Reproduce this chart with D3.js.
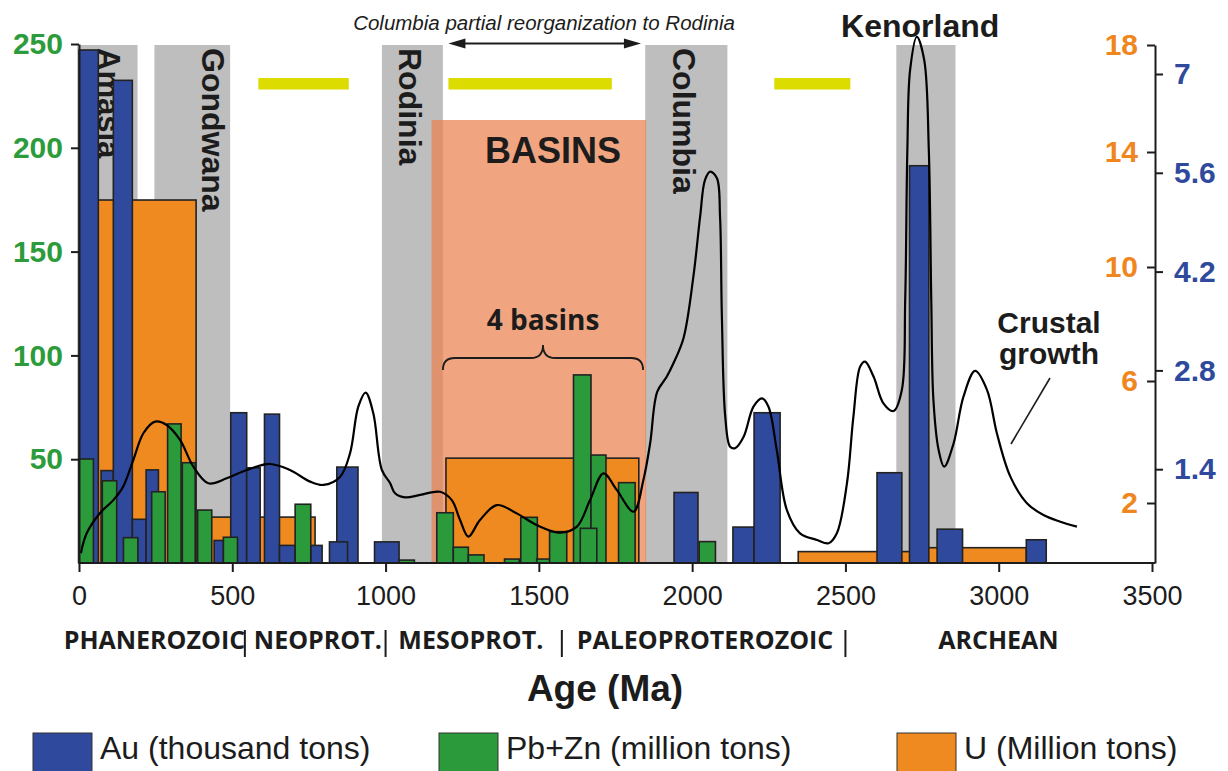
<!DOCTYPE html>
<html>
<head>
<meta charset="utf-8">
<title>Ore endowment, sedimentary basins and crustal growth through time</title>
<script src="https://cdn.jsdelivr.net/npm/d3@7/dist/d3.min.js"></script>
<style>
  html, body { margin: 0; padding: 0; background: #fff; }
  svg { display: block; }
  text { font-family: "Liberation Sans", Arial, Helvetica, sans-serif; }
  .sans2 { font-family: "Open Sans", "Liberation Sans", Arial, sans-serif; }
</style>
</head>
<body>
<svg id="chart" width="1228" height="771"></svg>
<script>
// ---------------- data ----------------
const ageTicks  = [0, 500, 1000, 1500, 2000, 2500, 3000, 3500];
const pbznTicks = [50, 100, 150, 200, 250];
const uTicks    = [2, 6, 10, 14, 18];
const auTicks   = [1.4, 2.8, 4.2, 5.6, 7];

// Au (thousand tons) per age bin (Ma)
const auStart = [0, 72, 112, 174, 219, 441, 495, 547, 605, 654, 756, 841, 817, 964, 1941, 2133, 2202, 2603, 2709, 2799, 3090];
const auEnd   = [63, 112, 174, 219, 259, 471, 547, 591, 654, 705, 793, 910, 876, 1044, 2019, 2202, 2287, 2684, 2772, 2882, 3155];
const auValue = [7.34, 1.38, 6.91, 0.69, 1.39, 0.39, 2.20, 1.42, 2.18, 0.32, 0.32, 1.43, 0.37, 0.37, 1.07, 0.58, 2.20, 1.35, 5.70, 0.55, 0.40];

// Pb+Zn (million tons) per age bin (Ma)
const pbznStart = [0, 76, 145, 237, 289, 337, 387, 471, 705, 1044, 1167, 1221, 1270, 1388, 1441, 1493, 1535, 1613, 1670, 1635, 1760, 2023];
const pbznEnd   = [47, 123, 192, 281, 333, 379, 433, 517, 756, 1094, 1221, 1270, 1321, 1436, 1495, 1539, 1591, 1670, 1719, 1689, 1814, 2076];
const pbznValue = [50.1, 39.6, 12.2, 34.3, 67.0, 48.3, 25.5, 12.4, 28.3, 1.4, 24.2, 7.6, 3.9, 1.9, 22.0, 1.9, 15.1, 90.6, 52.0, 16.7, 38.7, 10.3];

// U (million tons) per age bin (Ma)
const uStart = [59, 430, 1197, 2346, 2744];
const uEnd   = [382, 770, 1826, 2744, 3090];
const uValue = [12.33, 1.53, 3.47, 0.38, 0.51];

// supercontinents (Ma)
const superNames = ["Amasia", "Gondwana", "Rodinia", "Columbia", "Kenorland"];
const superStart = [-6, 246, 988, 1847, 2666];
const superEnd   = [191, 493, 1187, 2115, 2859];

// yellow intervals (Ma)
const yellowStart = [585, 1205, 2268];
const yellowEnd   = [880, 1738, 2516];

// sedimentary basins window and Columbia -> Rodinia reorganization (Ma)
const basinSpan = [1150, 1850];
const reorgSpan = [1205, 1833];
const braceSpan = [1187, 1840];

// geological eras
const eraNames    = ["PHANEROZOIC", "NEOPROT.", "MESOPROT.", "PALEOPROTEROZOIC", "ARCHEAN"];
const eraLabelAge = [246, 779, 1278, 2042, 2999];
const eraBounds   = [541, 1000, 1575, 2500];

// crustal growth curve (relative index, plotted against the left scale)
const crustAge = [6,25,68,112,144,177,210,248,286,330,373,422,482,547,623,688,754,797,852,884,911,935,960,988,1015,1031,1064,1113,1178,1216,1243,1270,1308,1363,1428,1493,1569,1624,1667,1711,1754,1809,1841,1863,1886,1917,1939,1972,2004,2026,2042,2059,2081,2091,2097,2108,2124,2140,2168,2200,2228,2249,2276,2309,2352,2407,2445,2472,2505,2526,2548,2564,2592,2624,2657,2684,2695,2702,2711,2733,2757,2772,2780,2787,2804,2822,2853,2885,2923,2962,2994,3038,3092,3146,3201,3255];
const crustIndex = [4.7,14.3,24.0,30.3,36.8,49.6,62.5,68.1,66.5,59.2,46.4,38.4,40.8,44.8,47.7,44.8,39.2,37.6,41.6,52.8,75.3,82.1,72.1,44.8,38.4,33.6,31.6,32.8,34.3,30.3,20.7,12.7,20.7,27.9,23.9,18.3,14.6,17.5,30.3,43.2,35.2,24.7,40.0,57.7,82.4,89.7,96.2,108.4,137.9,166.8,184.5,188.5,185.3,166.8,118.6,70.5,56.0,55.3,60.8,75.3,79.3,75.3,54.4,25.5,14.3,11.1,9.5,14.3,38.4,70.5,94.6,97.0,89.7,76.9,73.2,83.3,126.7,198.9,237.5,253.5,242.3,198.9,126.7,78.5,54.4,46.4,57.7,80.1,92.5,83.3,62.5,41.6,28.8,23.1,19.9,17.5];

const legendNames = ["Au (thousand tons)", "Pb+Zn (million tons)", "U (Million tons)"];

// ---------------- look ----------------
const C = {
  au: "#2f4a9d", pbzn: "#2a9a3a", u: "#ef8a21",
  auText: "#2f4a9d", pbznText: "#2c9b3b", uText: "#f0861e",
  band: "#bebebe", basin: "rgb(234,130,79)", yellow: "#dcdc00",
  ink: "#1c1c1c", edge: "#222"
};

const svg = d3.select("#chart");
const x = d3.scaleLinear().domain([0, 3500]).range([79, 1152]);
const yPbZn = d3.scaleLinear().domain([0, 250]).range([563, 44]);
const yU = d3.scaleLinear().domain([0, 2, 6, 10, 14, 18]).range([563, 503, 381, 267, 152, 45]);
const yAu = d3.scaleLinear().domain([0, 7]).range([568, 74]);
const base = yPbZn(0);
const bandTop = 45;
const rightX = x(3500) + 3;

// ---------- background bands ----------
const idx = n => d3.range(n);
svg.append("g").selectAll("rect").data(idx(superNames.length)).join("rect")
  .attr("x", i => x(superStart[i])).attr("width", i => x(superEnd[i]) - x(superStart[i]))
  .attr("y", bandTop).attr("height", base - bandTop).attr("fill", C.band);

svg.append("rect")
  .attr("x", x(basinSpan[0])).attr("width", x(basinSpan[1]) - x(basinSpan[0]))
  .attr("y", 120).attr("height", base - 120)
  .attr("fill", C.basin).attr("fill-opacity", 0.72);

// yellow intervals
svg.append("g").selectAll("rect").data(idx(yellowStart.length)).join("rect")
  .attr("x", i => x(yellowStart[i])).attr("width", i => x(yellowEnd[i]) - x(yellowStart[i]))
  .attr("y", 78).attr("height", 11.5).attr("fill", C.yellow);

// supercontinent names (vertical ones sit inside their band)
const vLabelX = [98, 202, 399, 673];
superNames.slice(0, 4).forEach((n, i) => {
  svg.append("text").attr("transform", `translate(${vLabelX[i]},48) rotate(90)`)
    .attr("font-size", i === 0 ? 31 : 32).attr("font-weight", "bold").attr("fill", C.ink)
    .text(n);
});
const kenorlandLabelAge = 2744;
svg.append("text").attr("x", x(kenorlandLabelAge)).attr("y", 37)
  .attr("text-anchor", "middle").attr("font-size", 32).attr("font-weight", "bold")
  .attr("fill", C.ink).text(superNames[4]);

// reorganization arrow and caption
const ay = 43.5, ax0 = x(reorgSpan[0]), ax1 = x(reorgSpan[1]);
svg.append("line").attr("x1", ax0 + 8).attr("x2", ax1 - 8).attr("y1", ay).attr("y2", ay)
  .attr("stroke", C.ink).attr("stroke-width", 1.8);
svg.append("path").attr("d", `M${ax0},${ay}L${ax0 + 17},${ay - 5}L${ax0 + 17},${ay + 5}Z`).attr("fill", C.ink);
svg.append("path").attr("d", `M${ax1},${ay}L${ax1 - 17},${ay - 5}L${ax1 - 17},${ay + 5}Z`).attr("fill", C.ink);
svg.append("text").attr("x", 544).attr("y", 29.5).attr("text-anchor", "middle")
  .attr("font-size", 20.5).attr("font-style", "italic").attr("fill", C.ink)
  .text("Columbia partial reorganization to Rodinia");

// ---------- bars ----------
function drawBars(starts, ends, values, yScale, fill) {
  svg.append("g").selectAll("rect").data(idx(starts.length)).join("rect")
    .attr("x", i => x(starts[i])).attr("width", i => x(ends[i]) - x(starts[i]))
    .attr("y", i => yScale(values[i])).attr("height", i => base - yScale(values[i]))
    .attr("fill", fill).attr("stroke", C.edge).attr("stroke-width", 1.6);
}
drawBars(uStart, uEnd, uValue, yU, C.u);
drawBars(auStart, auEnd, auValue, yAu, C.au);
drawBars(pbznStart, pbznEnd, pbznValue, yPbZn, C.pbzn);

// ---------- crustal growth curve ----------
const crustLine = d3.line()
  .x(i => x(crustAge[i])).y(i => yPbZn(crustIndex[i]))
  .curve(d3.curveCatmullRom.alpha(0.5));
svg.append("path").attr("d", crustLine(idx(crustAge.length)))
  .attr("fill", "none").attr("stroke", "#000").attr("stroke-width", 2.2);

// ---------- axes ----------
function styleAxis(g) {
  g.attr("font-family", null).attr("font-size", null);
  g.select(".domain").attr("stroke", C.ink).attr("stroke-width", 2);
  g.selectAll(".tick line").attr("stroke", C.ink).attr("stroke-width", 2);
}
const plain = d => String(d);

const gL = svg.append("g").attr("transform", `translate(${x(0)},0)`)
  .call(d3.axisLeft(yPbZn).tickValues(pbznTicks).tickFormat(plain).tickSize(8).tickSizeOuter(0).tickPadding(8));
styleAxis(gL);
gL.selectAll(".tick text").attr("fill", C.pbznText).attr("font-weight", "bold").attr("font-size", 30);

const gB = svg.append("g").attr("transform", `translate(0,${base})`)
  .call(d3.axisBottom(x).tickValues(ageTicks).tickFormat(plain).tickSize(9).tickSizeOuter(0).tickPadding(14));
styleAxis(gB);
gB.select(".domain").attr("d", `M${x(0)},0H${rightX}`);
gB.selectAll(".tick text").attr("fill", C.ink).attr("font-size", 27);

const gU = svg.append("g").attr("transform", `translate(${rightX},0)`)
  .call(d3.axisLeft(yU).tickValues(uTicks).tickFormat(plain).tickSize(8).tickSizeOuter(0).tickPadding(9));
styleAxis(gU);
gU.selectAll(".tick text").attr("fill", C.uText).attr("font-weight", "bold").attr("font-size", 30);

const gA = svg.append("g").attr("transform", `translate(${rightX},0)`)
  .call(d3.axisRight(yAu).tickValues(auTicks).tickFormat(plain).tickSize(8).tickPadding(11));
styleAxis(gA);
gA.select(".domain").remove();
gA.selectAll(".tick text").attr("fill", C.auText).attr("font-weight", "bold").attr("font-size", 30);

// ---------- eras ----------
eraNames.forEach((n, i) => {
  svg.append("text").attr("class", "sans2").attr("x", x(eraLabelAge[i])).attr("y", 649)
    .attr("text-anchor", "middle").attr("font-size", 25).attr("font-weight", "bold")
    .attr("fill", C.ink).text(n);
});
svg.append("g").selectAll("line").data(eraBounds).join("line")
  .attr("x1", d => x(d)).attr("x2", d => x(d)).attr("y1", 630).attr("y2", 657)
  .attr("stroke", C.ink).attr("stroke-width", 2);

svg.append("text").attr("x", 605).attr("y", 701).attr("text-anchor", "middle")
  .attr("font-size", 37).attr("font-weight", "bold").attr("fill", C.ink).text("Age (Ma)");

// ---------- annotations ----------
svg.append("text").attr("x", 553).attr("y", 163).attr("text-anchor", "middle")
  .attr("font-size", 36).attr("font-weight", "bold").attr("fill", C.ink).text("BASINS");
svg.append("text").attr("class", "sans2").attr("x", 543).attr("y", 330).attr("text-anchor", "middle")
  .attr("font-size", 28).attr("font-weight", "bold").attr("fill", C.ink).text("4 basins");

const bx0 = x(braceSpan[0]), bx1 = x(braceSpan[1]), bxm = (bx0 + bx1) / 2, by = 358;
svg.append("path")
  .attr("d", `M${bx0},${by + 12}Q${bx0},${by} ${bx0 + 12},${by}L${bxm - 12},${by}Q${bxm},${by} ${bxm},${by - 13}` +
             `Q${bxm},${by} ${bxm + 12},${by}L${bx1 - 12},${by}Q${bx1},${by} ${bx1},${by + 12}`)
  .attr("fill", "none").attr("stroke", C.ink).attr("stroke-width", 1.8);

const cg = svg.append("text").attr("text-anchor", "middle").attr("font-size", 30)
  .attr("font-weight", "bold").attr("fill", C.ink);
cg.append("tspan").attr("x", 1049).attr("y", 333).text("Crustal");
cg.append("tspan").attr("x", 1049).attr("y", 364).text("growth");
svg.append("line").attr("x1", 1050).attr("y1", 378).attr("x2", 1011).attr("y2", 444)
  .attr("stroke", C.ink).attr("stroke-width", 1.6);

// ---------- legend ----------
const legendX = [33, 439, 897];
const legendFill = [C.au, C.pbzn, C.u];
legendNames.forEach((n, i) => {
  svg.append("rect").attr("x", legendX[i]).attr("y", 733).attr("width", 59).attr("height", 45)
    .attr("fill", legendFill[i]).attr("stroke", "#333").attr("stroke-width", 1);
  svg.append("text").attr("x", legendX[i] + 67).attr("y", 759).attr("font-size", 32)
    .attr("fill", C.ink).text(n);
});
</script>
</body>
</html>
